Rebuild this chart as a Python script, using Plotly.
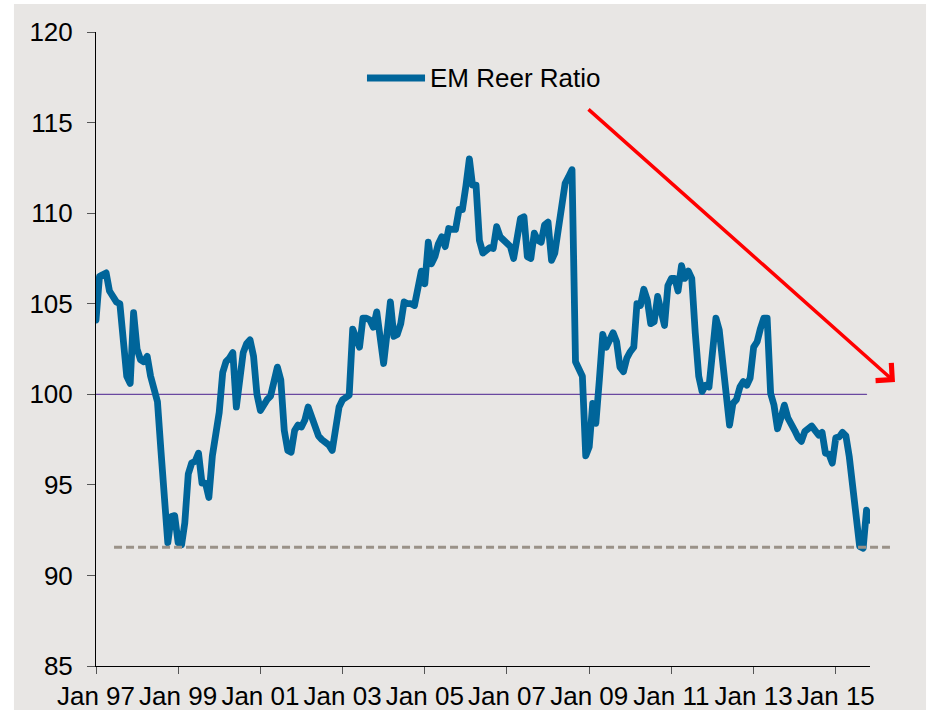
import pandas as pd
import plotly.graph_objects as go

# EM real effective exchange rate ratio, monthly, Jan 1997 - Nov 2015
START = "1997-01-01"
reer_1997 = [104.1, 106.5, 106.6, 106.7, 105.7, 105.3, 105.1, 105.0, 103.0, 101.0, 100.6, 104.5]
reer_1998 = [102.5, 101.9, 101.8, 102.1, 101.0, 100.4, 99.6, 96.9, 93.8, 91.8, 93.25, 93.3]
reer_1999 = [91.8, 91.7, 92.9, 95.6, 96.2, 96.3, 96.75, 95.1, 95.1, 94.3, 96.6, 98.0]
reer_2000 = [99.0, 101.2, 101.8, 102.0, 102.3, 99.3, 101.15, 102.3, 102.8, 103.0, 102.1, 100.0]
reer_2001 = [99.1, 99.5, 99.7, 99.9, 100.6, 101.5, 100.8, 98.0, 96.9, 96.8, 98.0, 98.3]
reer_2002 = [98.2, 98.6, 99.3, 98.8, 98.2, 97.7, 97.5, 97.4, 97.2, 96.9, 98.4, 99.3]
reer_2003 = [99.7, 99.9, 99.95, 103.6, 103.2, 102.6, 104.2, 104.2, 104.1, 103.7, 104.55, 103.2]
reer_2004 = [101.7, 103.4, 105.1, 103.2, 103.3, 103.9, 105.1, 105.0, 105.0, 104.9, 105.9, 106.8]
reer_2005 = [106.1, 108.4, 107.2, 107.6, 108.3, 108.7, 108.15, 109.15, 109.1, 109.1, 110.2, 110.2]
reer_2006 = [111.5, 113.0, 111.55, 111.55, 108.5, 107.8, 107.95, 108.1, 108.05, 109.25, 108.7, 108.5]
reer_2007 = [108.3, 108.15, 107.5, 108.7, 109.7, 109.8, 107.6, 107.5, 108.9, 108.5, 108.4, 109.35]
reer_2008 = [109.5, 107.4, 107.8, 109.1, 110.6, 111.65, 112.0, 112.4, 101.8, 101.3, 101.0, 96.6]
reer_2009 = [97.1, 99.5, 98.4, 100.8, 103.3, 102.6, 103.0, 103.4, 102.9, 101.5, 101.25, 102.0]
reer_2010 = [102.35, 102.6, 105.0, 104.9, 105.8, 105.2, 103.9, 104.0, 105.4, 104.5, 103.8, 106.0]
reer_2011 = [106.4, 106.4, 105.7, 107.1, 106.4, 106.8, 106.4, 103.4, 101.0, 100.15, 100.5, 100.4]
reer_2012 = [102.5, 104.2, 103.55, 101.7, 99.9, 98.3, 99.5, 99.7, 100.4, 100.7, 100.5, 100.9]
reer_2013 = [102.6, 102.9, 103.6, 104.2, 104.2, 100.05, 99.4, 98.1, 98.7, 99.4, 98.7, 98.4]
reer_2014 = [98.0, 97.6, 97.4, 97.95, 98.1, 98.25, 98.0, 97.75, 97.9, 96.75, 96.7, 96.2]
reer_2015 = [97.6, 97.65, 97.9, 97.7, 96.55, 94.9, 93.4, 91.6, 91.5, 93.6, 93.05]

PAR_LEVEL = 100        # long-run average
LOW_LEVEL = 91.55      # 1998/99 low, revisited in 2015
Y_TICKS = [85, 90, 95, 100, 105, 110, 115, 120]

reer = (reer_1997 + reer_1998 + reer_1999 + reer_2000 + reer_2001 + reer_2002
        + reer_2003 + reer_2004 + reer_2005 + reer_2006 + reer_2007 + reer_2008
        + reer_2009 + reer_2010 + reer_2011 + reer_2012 + reer_2013 + reer_2014 + reer_2015)
dates = pd.date_range(START, periods=len(reer), freq="MS")

BLUE = "#00659A"
BG = "#E8E6E4"
PURPLE = "#6A48A0"
TAUPE = "#9A9288"
FONT = "Liberation Sans, Arial, sans-serif"

fig = go.Figure()
fig.add_trace(go.Scatter(x=dates[:-1], y=[PAR_LEVEL] * (len(dates) - 1), mode="lines",
                         line=dict(color=PURPLE, width=1.3), showlegend=False, hoverinfo="skip"))
fig.add_trace(go.Scatter(x=dates, y=reer, mode="lines", name="EM Reer Ratio",
                         line=dict(color=BLUE, width=6.8), showlegend=False))

# grey panel behind everything (extends under the tick labels)
fig.add_shape(type="rect", xref="paper", yref="paper", x0=-0.106, x1=1.0724, y0=-0.2, y1=1.0442,
              fillcolor=BG, line_width=0, layer="below")
# dashed line at the previous low
fig.add_shape(type="line", xref="paper", yref="y", x0=0.0233, x1=1.0258, y0=LOW_LEVEL, y1=LOW_LEVEL,
              line=dict(color=TAUPE, width=3, dash="8px,4px"))
# hand-made legend
fig.add_shape(type="line", xref="paper", yref="paper", x0=0.3501, x1=0.4251, y0=0.9274, y1=0.9274,
              line=dict(color=BLUE, width=7))
fig.add_annotation(text="EM Reer Ratio", xref="paper", yref="paper", x=0.4289, y=0.9274,
                   xanchor="left", yanchor="middle", showarrow=False,
                   font=dict(size=26, color="black", family=FONT))
# red trend arrow
fig.add_annotation(text="", xref="paper", yref="paper", x=1.0323, y=0.4479, ax=-308, ay=-274,
                   showarrow=True, arrowhead=4, arrowsize=1.3, arrowwidth=3.5, arrowcolor="#FF0000")

fig.update_layout(width=928, height=710, margin=dict(l=96, r=58, t=32, b=44, autoexpand=False),
                  paper_bgcolor="white", plot_bgcolor="rgba(0,0,0,0)",
                  font=dict(family=FONT, size=26, color="black"), showlegend=False)
fig.update_xaxes(type="date", range=[dates[0], dates[-1]], dtick="M24", tick0=START,
                 tickformat="%b %y", ticks="outside", ticklen=7, tickcolor="#555555",
                 showline=True, linecolor="black", linewidth=1, showgrid=False, zeroline=False,
                 automargin=False)
fig.update_yaxes(range=[85, 120], tickvals=Y_TICKS, ticks="outside", ticklen=8, tickcolor="#555555",
                 showline=True, linecolor="black", linewidth=1, showgrid=False, zeroline=False,
                 automargin=False, ticklabelstandoff=9)

page_js = ("document.body.style.margin='0';"
           "document.querySelectorAll('.scatterlayer path.js-line').forEach(function(p){"
           "p.style.strokeLinejoin='round';p.style.strokeLinecap='round';});")
fig.write_html("out.html", post_script=page_js, config={"displayModeBar": False})
